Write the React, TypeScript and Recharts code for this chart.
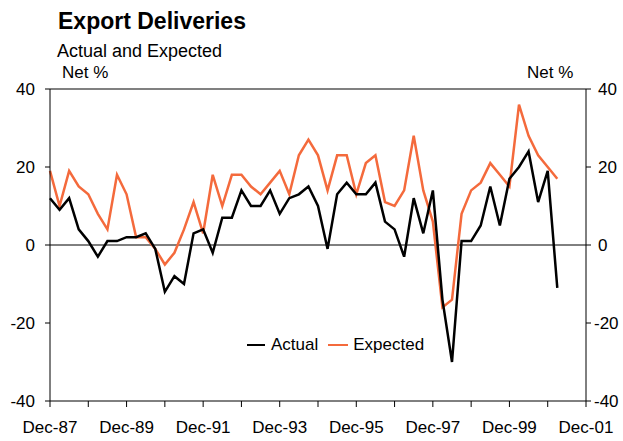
import React from 'react';
import { LineChart, Line, XAxis, YAxis, ReferenceLine } from 'recharts';

// Quarterly observations, Dec-87 onwards (index = quarters since Dec-87)
const actual = [
  12, 9, 12, 4, 1, -3, 1, 1, 2, 2,
  3, -1, -12, -8, -10, 3, 4, -2, 7, 7,
  14, 10, 10, 14, 8, 12, 13, 15, 10, -1,
  13, 16, 13, 13, 16, 6, 4, -3, 12, 3,
  14, -14, -30, 1, 1, 5, 15, 5, 17, 20,
  24, 11, 19, -11,
];
const expected = [
  19, 10, 19, 15, 13, 8, 4, 18, 13, 2,
  2, -1, -5, -2, 4, 11, 3, 18, 10, 18,
  18, 15, 13, 16, 19, 13, 23, 27, 23, 14,
  23, 23, 13, 21, 23, 11, 10, 14, 28, 14,
  6, -16, -14, 8, 14, 16, 21, 18, 15, 36,
  28, 23, 20, 17,
];
const quarterIndex = actual.map((_, i) => i);
const xTicks = [0, 4, 8, 12, 16, 20, 24, 28, 32, 36, 40, 44, 48, 52, 56];
const xTickLabels: Record<number, string> = {
  0: 'Dec-87', 8: 'Dec-89', 16: 'Dec-91', 24: 'Dec-93',
  32: 'Dec-95', 40: 'Dec-97', 48: 'Dec-99', 56: 'Dec-01',
};
const yTicks = [-40, -20, 0, 20, 40];

const data = quarterIndex.map((q, i) => ({ q, actual: actual[i], expected: expected[i] }));

const FONT = '"Liberation Sans", Arial, sans-serif';
const ORANGE = '#F46A3C';

const RightTick = (props: any) => {
  const { x, y, payload } = props;
  const v = payload.value as number;
  return (
    <text x={x + (v < 0 ? 1 : 5)} y={y} dy="0.355em" fill="#000" fontSize={17} fontFamily={FONT} textAnchor="start">
      {v}
    </text>
  );
};

export default function App() {
  return (
    <div style={{ position: 'absolute', left: 0, top: 0, width: 623, height: 441, background: '#fff', fontFamily: FONT, overflow: 'hidden' }}>
      <div style={{ position: 'absolute', left: 58, top: 6, fontSize: 23, fontWeight: 'bold', lineHeight: '30px' }}>Export Deliveries</div>
      <div style={{ position: 'absolute', left: 57, top: 39, fontSize: 18, lineHeight: '24px' }}>Actual and Expected</div>
      <div style={{ position: 'absolute', left: 62, top: 63, fontSize: 17, lineHeight: '20px' }}>Net %</div>
      <div style={{ position: 'absolute', left: 527, top: 63, fontSize: 17, lineHeight: '20px' }}>Net %</div>
      <LineChart width={623} height={441} data={data} margin={{ top: 89, right: 0, bottom: 0, left: 0 }}>
        <XAxis
          type="number"
          dataKey="q"
          domain={[0, 56]}
          ticks={xTicks}
          interval={0}
          tickFormatter={(v: number) => xTickLabels[v] ?? ''}
          axisLine={{ stroke: '#000', strokeWidth: 1 }}
          tickLine={{ stroke: '#000' }}
          tickSize={6}
          tickMargin={14}
          height={40}
          tick={{ fill: '#000', fontSize: 17, fontFamily: FONT }}
        />
        <YAxis
          yAxisId="left"
          domain={[-40, 40]}
          ticks={yTicks}
          interval={0}
          width={50}
          axisLine={{ stroke: '#000', strokeWidth: 1 }}
          tickLine={{ stroke: '#000' }}
          tickSize={5}
          tickMargin={10}
          tick={{ fill: '#000', fontSize: 17, fontFamily: FONT }}
        />
        <YAxis
          yAxisId="right"
          orientation="right"
          domain={[-40, 40]}
          ticks={yTicks}
          interval={0}
          width={37}
          axisLine={{ stroke: '#000', strokeWidth: 1 }}
          tickLine={{ stroke: '#000' }}
          tickSize={5}
          tick={<RightTick />}
        />
        <ReferenceLine yAxisId="left" y={40} stroke="#808080" strokeWidth={2} />
        <ReferenceLine yAxisId="left" y={0} stroke="#000" strokeWidth={1} />
        <Line yAxisId="right" type="linear" dataKey="expected" stroke={ORANGE} strokeWidth={2.5} dot={false} isAnimationActive={false} name="Expected" />
        <Line yAxisId="left" type="linear" dataKey="actual" stroke="#000" strokeWidth={2.5} dot={false} isAnimationActive={false} name="Actual" />
      </LineChart>
      <div style={{ position: 'absolute', left: 247, top: 334, display: 'flex', alignItems: 'center', fontSize: 17, lineHeight: '22px', color: '#000' }}>
        <span style={{ display: 'inline-block', width: 18, height: 0, borderTop: '2.5px solid #000', marginRight: 6 }} />
        <span style={{ marginRight: 10 }}>Actual</span>
        <span style={{ display: 'inline-block', width: 20, height: 0, borderTop: `2.5px solid ${ORANGE}`, marginRight: 5 }} />
        <span>Expected</span>
      </div>
    </div>
  );
}
